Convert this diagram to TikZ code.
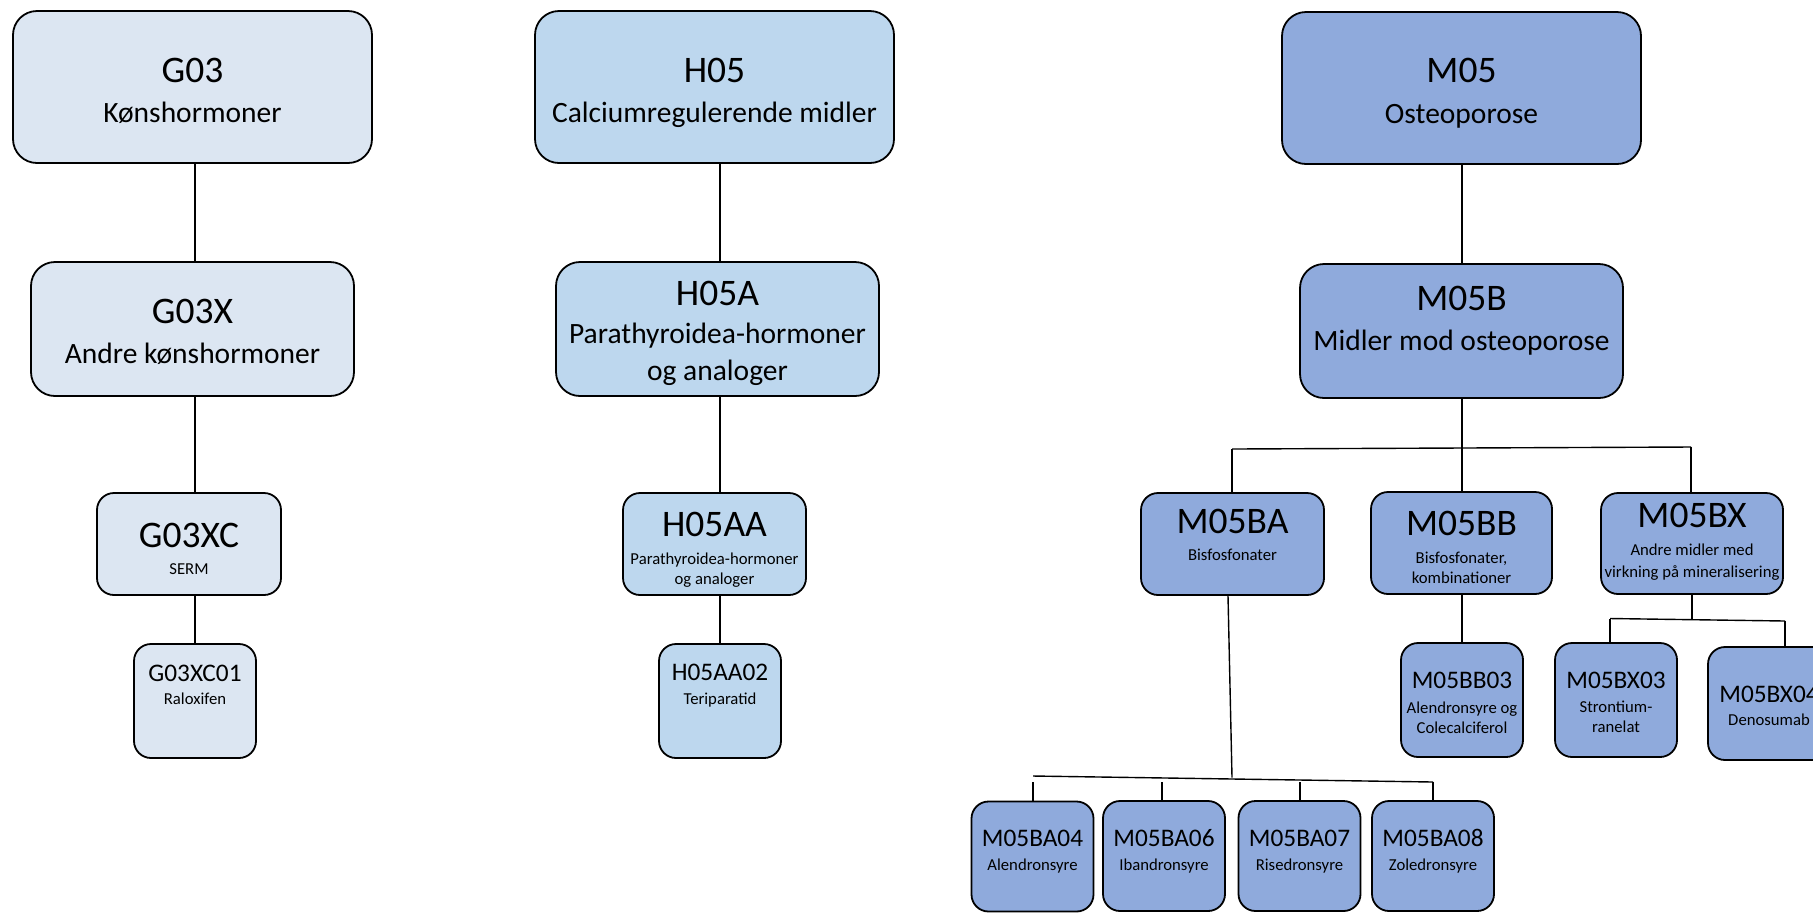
\documentclass[tikz,border=0pt]{standalone}
\usepackage{fontspec}
\setmainfont{Carlito}
\definecolor{cG}{HTML}{DCE6F2}
\definecolor{cH}{HTML}{BDD7EE}
\definecolor{cM}{HTML}{8FAADC}
\tikzset{
  bxL/.style={draw=black, line width=0.9pt, rounded corners=12pt, inner sep=0pt},
  bxS/.style={draw=black, line width=0.9pt, rounded corners=8.5pt, inner sep=0pt},
  tt/.style={anchor=base, inner sep=0pt, font=\fontsize{18.75pt}{22pt}\selectfont},
  st/.style={anchor=base, inner sep=0pt, font=\fontsize{14.75pt}{17pt}\selectfont},
  tm/.style={anchor=base, inner sep=0pt, font=\fontsize{12.65pt}{15pt}\selectfont},
  ss/.style={anchor=base, inner sep=0pt, font=\fontsize{8.35pt}{10pt}\selectfont},
  ln/.style={draw=black, line width=0.7pt},
  big/.style={minimum width=179.5pt, minimum height=76pt},
  mid/.style={minimum width=161.5pt, minimum height=67pt},
  lv3/.style={minimum width=91.5pt, minimum height=51pt},
  lv4/.style={minimum width=61pt, minimum height=57pt},
  lv5/.style={minimum width=61pt, minimum height=55pt}
}
\begin{document}
\begin{tikzpicture}[x=0.5pt,y=-0.5pt]
\clip (0,0) rectangle (1813,912);
\fill[white] (0,0) rectangle (1813,912);

% ---- G column
\node[bxL, fill=cG, big] (G03) at (192.5,87) {};
\node[tt] (G03a) at (192.5,82) {G03};
\node[st] (G03b) at (192.5,122) {Kønshormoner};
\node[bxL, fill=cG, mid] (G03X) at (192.5,329) {};
\node[tt] (G03Xa) at (192.5,323) {G03X};
\node[st] (G03Xb) at (192.5,363) {Andre kønshormoner};
\node[bxS, fill=cG, minimum width=92pt, minimum height=51pt] (G03XC) at (189,544) {};
\node[tt] (G03XCa) at (189,547) {G03XC};
\node[ss] (G03XCb) at (189,574) {SERM};
\node[bxS, fill=cG, lv4] (G03XC01) at (195,701) {};
\node[tm] (G03XC01a) at (195,681) {G03XC01};
\node[ss] (G03XC01b) at (195,704) {Raloxifen};

% ---- H column
\node[bxL, fill=cH, big] (H05) at (714.5,87) {};
\node[tt] (H05a) at (714.5,82) {H05};
\node[st] (H05b) at (714.5,122) {Calciumregulerende midler};
\node[bxL, fill=cH, mid] (H05A) at (717.5,329) {};
\node[tt] (H05Aa) at (717.5,305) {H05A};
\node[st] (H05Ab) at (717.5,343) {Parathyroidea-hormoner};
\node[st] (H05Ac) at (717.5,380) {og analoger};
\node[bxS, fill=cH, lv3] (H05AA) at (714.5,544) {};
\node[tt] (H05AAa) at (714.5,536) {H05AA};
\node[ss] (H05AAb) at (714.5,564) {Parathyroidea-hormoner};
\node[ss] (H05AAc) at (714.5,584) {og analoger};
\node[bxS, fill=cH, lv4] (H05AA02) at (720,701) {};
\node[tm] (H05AA02a) at (720,680) {H05AA02};
\node[ss] (H05AA02b) at (720,704) {Teriparatid};

% ---- M column
\node[bxL, fill=cM, big] (M05) at (1461.5,88) {};
\node[tt] (M05a) at (1461.5,82) {M05};
\node[st] (M05b) at (1461.5,123) {Osteoporose};
\node[bxL, fill=cM, mid] (M05B) at (1461.5,331) {};
\node[tt] (M05Ba) at (1461.5,310) {M05B};
\node[st] (M05Bb) at (1461.5,350) {Midler mod osteoporose};

\node[bxS, fill=cM, lv3] (M05BA) at (1232.5,544) {};
\node[tt] (M05BAa) at (1232.5,533) {M05BA};
\node[ss] (M05BAb) at (1232.5,560) {Bisfosfonater};
\node[bxS, fill=cM, minimum width=90.5pt, minimum height=51pt] (M05BB) at (1461.5,543) {};
\node[tt] (M05BBa) at (1461.5,535) {M05BB};
\node[ss] (M05BBb) at (1461.5,563) {Bisfosfonater,};
\node[ss] (M05BBc) at (1461.5,583) {kombinationer};
\node[bxS, fill=cM, minimum width=91pt, minimum height=50.5pt] (M05BX) at (1692,543.5) {};
\node[tt] (M05BXa) at (1692,527) {M05BX};
\node[ss] (M05BXb) at (1692,555) {Andre midler med};
\node[ss] (M05BXc) at (1692,577) {virkning på mineralisering};

\node[bxS, fill=cM, lv4] (M05BB03) at (1462,700) {};
\node[tm] (M05BB03a) at (1462,688) {M05BB03};
\node[ss] (M05BB03b) at (1462,713) {Alendronsyre og};
\node[ss] (M05BB03c) at (1462,733) {Colecalciferol};
\node[bxS, fill=cM, lv4] (M05BX03) at (1616,700) {};
\node[tm] (M05BX03a) at (1616,688) {M05BX03};
\node[ss] (M05BX03b) at (1616,712) {Strontium-};
\node[ss] (M05BX03c) at (1616,732) {ranelat};
\node[bxS, fill=cM, minimum width=61pt, minimum height=56.5pt] (M05BX04) at (1769,703.5) {};
\node[tm] (M05BX04a) at (1769,702) {M05BX04};
\node[ss] (M05BX04b) at (1769,725) {Denosumab};

\node[bxS, fill=cM, lv5] (M05BA04) at (1032.5,856.5) {};
\node[tm] (M05BA04a) at (1032.5,846) {M05BA04};
\node[ss] (M05BA04b) at (1032.5,870) {Alendronsyre};
\node[bxS, fill=cM, lv5] (M05BA06) at (1164,856) {};
\node[tm] (M05BA06a) at (1164,846) {M05BA06};
\node[ss] (M05BA06b) at (1164,870) {Ibandronsyre};
\node[bxS, fill=cM, lv5] (M05BA07) at (1299.5,856) {};
\node[tm] (M05BA07a) at (1299.5,846) {M05BA07};
\node[ss] (M05BA07b) at (1299.5,870) {Risedronsyre};
\node[bxS, fill=cM, lv5] (M05BA08) at (1433,856) {};
\node[tm] (M05BA08a) at (1433,846) {M05BA08};
\node[ss] (M05BA08b) at (1433,870) {Zoledronsyre};

% ---- connectors G
\draw[ln] (G03.south -| G03XC01) -- (G03X.north -| G03XC01);
\draw[ln] (G03X.south -| G03XC01) -- (G03XC.north -| G03XC01);
\draw[ln] (G03XC.south -| G03XC01) -- (G03XC01.north);
% ---- connectors H
\draw[ln] (H05.south -| H05AA02) -- (H05A.north -| H05AA02);
\draw[ln] (H05A.south -| H05AA02) -- (H05AA.north -| H05AA02);
\draw[ln] (H05AA.south -| H05AA02) -- (H05AA02.north);
% ---- connectors M
\draw[ln] (M05.south -| M05BB03) -- (M05B.north -| M05BB03);
\coordinate (bLa) at (1232,449);
\coordinate (bRa) at (1691,447);
\coordinate (bMa) at (1462,448);
\draw[ln] (M05B.south -| bMa) -- (bMa);
\draw[ln] (bLa) -- (bRa);
\draw[ln] (bLa) -- (bLa |- M05BA.north);
\draw[ln] (bMa) -- (bMa |- M05BB.north);
\draw[ln] (bRa) -- (bRa |- M05BX.north);
\draw[ln] (M05BB.south -| M05BB03) -- (M05BB03.north);

\coordinate (bLb) at (1610,618.5);
\coordinate (bRb) at (1785,621);
\coordinate (bMb) at (1692,619.5);
\draw[ln] (M05BX.south -| bMb) -- (bMb);
\draw[ln] (bLb) -- (bRb);
\draw[ln] (bLb) -- (bLb |- M05BX03.north);
\draw[ln] (bRb) -- (bRb |- M05BX04.north);

\coordinate (bMc) at (1232,777.5);
\coordinate (bLc) at (1033,776);
\coordinate (bRc) at (1433,782);
\coordinate (dc1) at (1033,782);
\coordinate (dc2) at (1162,782);
\coordinate (dc3) at (1300,782);
\draw[ln] ([xshift=-2.25pt]M05BA.south) -- (bMc);
\draw[ln] (bLc) -- (bRc);
\draw[ln] (dc1) -- (dc1 |- M05BA04.north);
\draw[ln] (dc2) -- (dc2 |- M05BA06.north);
\draw[ln] (dc3) -- (dc3 |- M05BA07.north);
\draw[ln] (bRc) -- (bRc |- M05BA08.north);
\end{tikzpicture}
\end{document}
